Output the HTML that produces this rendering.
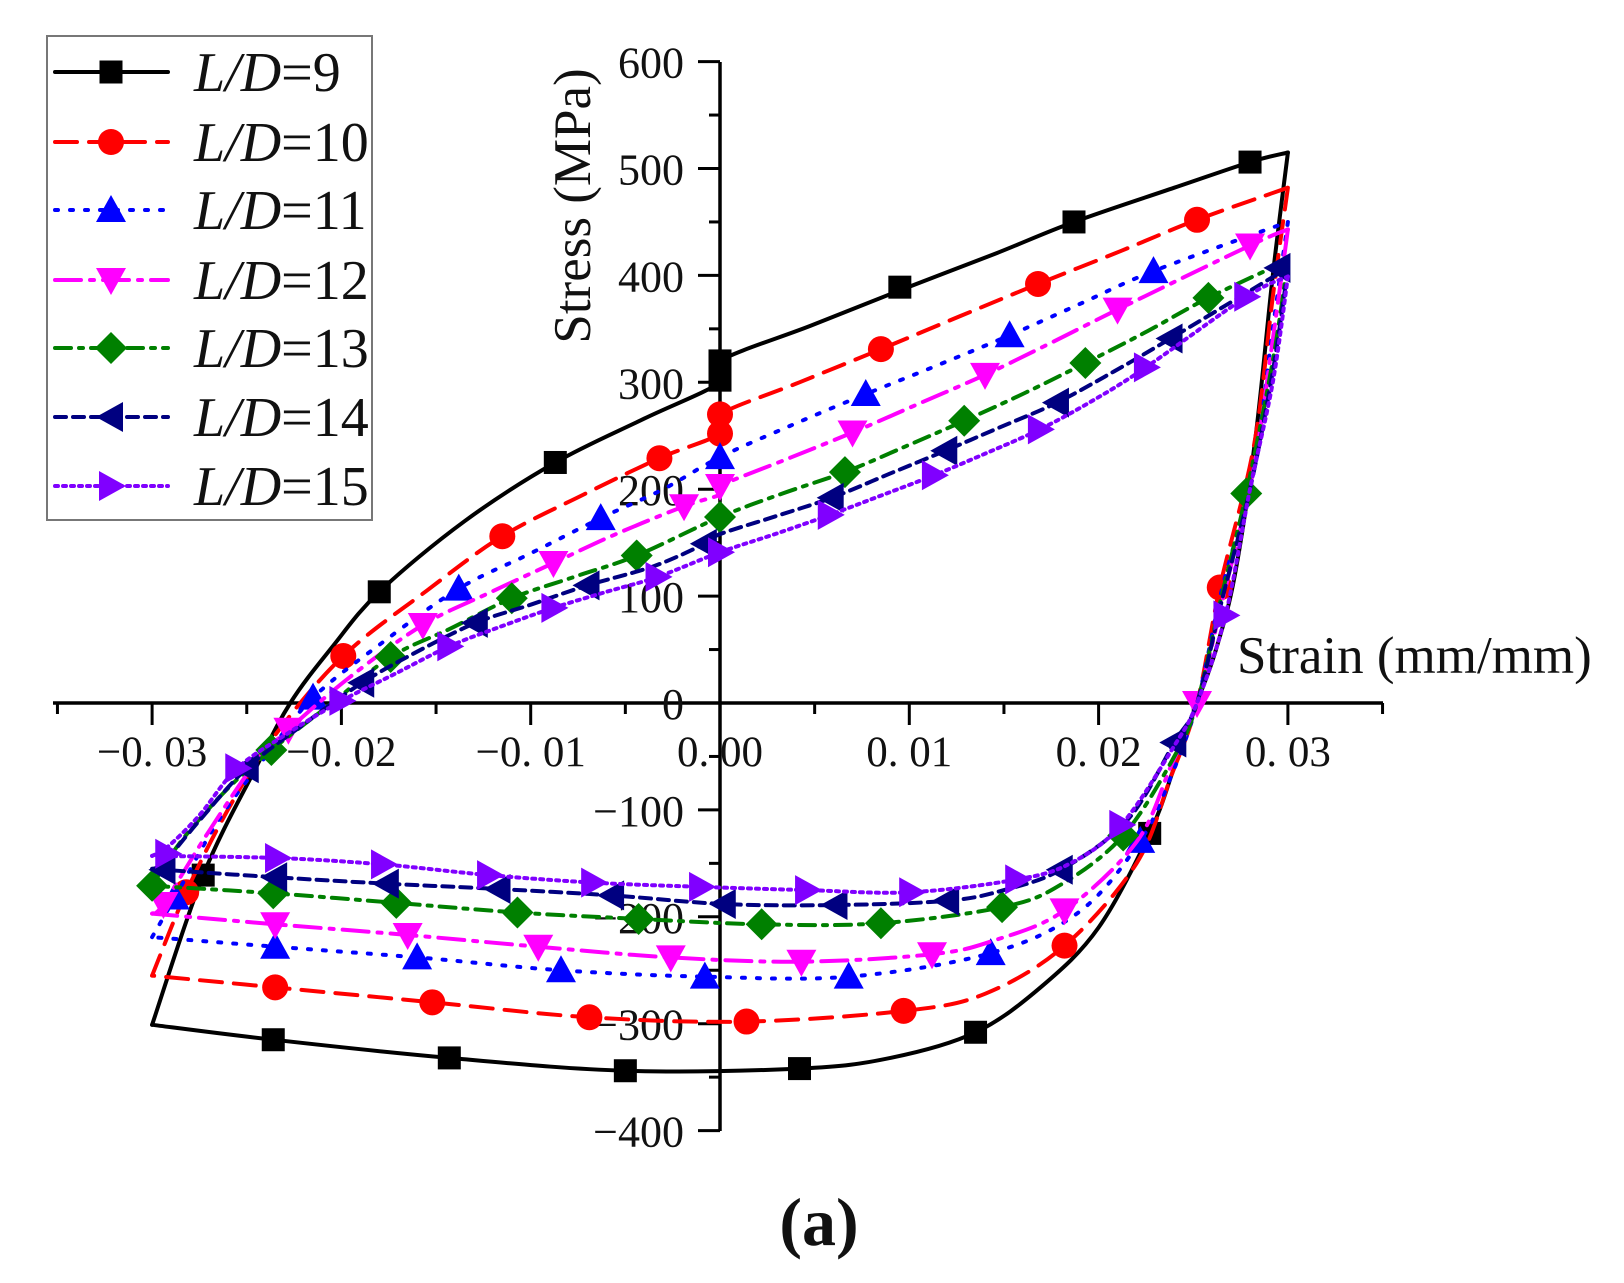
<!DOCTYPE html>
<html><head><meta charset="utf-8"><style>
html,body{margin:0;padding:0;background:#fff;}
svg{display:block;}
text{font-family:"Liberation Serif",serif;fill:#111;}
</style></head><body>
<svg id="chart" width="1624" height="1283" viewBox="0 0 1624 1283" xmlns="http://www.w3.org/2000/svg">
<g id="axes"></g>
<g id="series"></g>
<g id="legend"></g>
<text x="1237" y="673" font-size="53">Strain (mm/mm)</text>
<text transform="translate(590,206) rotate(-90)" text-anchor="middle" font-size="53">Stress (MPa)</text>
<text x="819" y="1245" text-anchor="middle" font-size="68" font-weight="bold">(a)</text>
</svg>
<script>
const xTicks = [-0.03,-0.02,-0.01,0,0.01,0.02,0.03];
const xTickLabels = ["\u22120. 03","\u22120. 02","\u22120. 01","0. 00","0. 01","0. 02","0. 03"];
const yTicks = [600,500,400,300,200,100,0,-100,-200,-300,-400];
const yTickLabels = ["600","500","400","300","200","100","0","\u2212100","\u2212200","\u2212300","\u2212400"];
const seriesNames = ["L/D=9","L/D=10","L/D=11","L/D=12","L/D=13","L/D=14","L/D=15"];

const up9 = [[-0.03,-301],[-0.0273,-161],[-0.0245,-60],[-0.0227,0],[-0.0205,52],[-0.018,104],[-0.0135,170],[-0.0087,225],[-0.004,266],[0,300],[0,320],[0.0048,353],[0.0095,386],[0.0145,420],[0.0187,450],[0.024,482],[0.028,506],[0.030,515]];
const down9 = [[0.030,515],[0.0292,400],[0.0283,250],[0.0272,120],[0.0262,50],[0.0252,0],[0.024,-60],[0.0227,-122],[0.020,-210],[0.017,-265],[0.0135,-308],[0.009,-332],[0.0042,-342],[-0.005,-344],[-0.0143,-332],[-0.0236,-315],[-0.030,-301]];
const marks9 = [[0.028,506],[0.0187,450],[0.0095,389],[0,320],[0,302],[-0.0087,225],[-0.018,104],[-0.0273,-161],[0.0227,-122],[0.0135,-308],[0.0042,-342],[-0.005,-344],[-0.0143,-332],[-0.0236,-315]];

const up10 = [[-0.030,-255],[-0.0282,-177],[-0.026,-100],[-0.0235,-30],[-0.0199,44],[-0.0155,105],[-0.0115,156],[-0.0072,195],[-0.0032,229],[0,252],[0,270],[0.0042,300],[0.0085,331],[0.0127,362],[0.0168,392],[0.0212,423],[0.0252,452],[0.030,482]];
const down10 = [[0.030,482],[0.0292,380],[0.0282,240],[0.0264,108],[0.0252,0],[0.0238,-70],[0.022,-150],[0.0182,-227],[0.014,-272],[0.0097,-288],[0.0014,-298],[-0.0069,-294],[-0.0152,-280],[-0.0235,-266],[-0.030,-255]];
const marks10 = [[0.0252,452],[0.0168,392],[0.0085,331],[0,270],[0,252],[-0.0032,229],[-0.0115,156],[-0.0199,44],[-0.0282,-177],[0.0264,108],[0.0182,-227],[0.0097,-288],[0.0014,-298],[-0.0069,-294],[-0.0152,-280],[-0.0235,-266]];

const up11 = [[-0.030,-219],[-0.0288,-182],[-0.0265,-110],[-0.024,-50],[-0.0215,5],[-0.0178,57],[-0.0138,107],[-0.01,140],[-0.0063,173],[-0.003,200],[0,230],[0.0038,260],[0.0077,289],[0.0115,316],[0.0153,344],[0.0191,374],[0.0229,404],[0.030,450]];
const down11 = [[0.030,450],[0.0292,350],[0.0282,220],[0.0265,105],[0.0252,0],[0.0238,-70],[0.0222,-129],[0.019,-195],[0.0143,-234],[0.0068,-256],[-0.0008,-256],[-0.0084,-250],[-0.016,-238],[-0.0235,-228],[-0.030,-219]];
const marks11 = [[0.0229,404],[0.0153,344],[0.0077,289],[0,230],[-0.0063,173],[-0.0138,107],[-0.0215,5],[-0.0288,-182],[0.0222,-129],[0.0143,-234],[0.0068,-256],[-0.0008,-256],[-0.0084,-250],[-0.016,-238],[-0.0235,-228]];

const up12 = [[-0.030,-197],[-0.0294,-188],[-0.027,-120],[-0.0245,-55],[-0.0228,-25],[-0.0195,25],[-0.0157,73],[-0.0122,103],[-0.0088,131],[-0.0055,158],[-0.0019,184],[0,195],[0,203],[0.0035,228],[0.007,253],[0.0105,280],[0.014,307],[0.0175,337],[0.021,368],[0.028,428],[0.030,443]];
const down12 = [[0.030,443],[0.0292,340],[0.0282,220],[0.0266,100],[0.0252,0],[0.0238,-60],[0.022,-130],[0.0182,-194],[0.0145,-222],[0.0112,-235],[0.0043,-242],[-0.0026,-238],[-0.0096,-228],[-0.0165,-217],[-0.0235,-207],[-0.030,-197]];
const marks12 = [[0.028,428],[0.021,368],[0.014,307],[0.007,253],[0,203],[-0.0019,184],[-0.0088,131],[-0.0157,73],[-0.0228,-25],[-0.0294,-188],[0.0252,0],[0.0182,-194],[0.0112,-235],[0.0043,-242],[-0.0026,-238],[-0.0096,-228],[-0.0165,-217],[-0.0235,-207]];

const up13 = [[-0.030,-171],[-0.0285,-130],[-0.026,-80],[-0.0237,-44],[-0.0205,0],[-0.0174,43],[-0.0142,70],[-0.011,98],[-0.0077,118],[-0.0044,138],[0,174],[0.0033,196],[0.0066,216],[0.0098,240],[0.0129,264],[0.0161,290],[0.0193,318],[0.0226,348],[0.0258,379],[0.030,414]];
const down13 = [[0.030,414],[0.0292,320],[0.0278,196],[0.0265,100],[0.0252,0],[0.024,-50],[0.0213,-124],[0.018,-170],[0.0149,-191],[0.0085,-206],[0.0022,-207],[-0.0043,-202],[-0.0107,-196],[-0.0171,-187],[-0.0236,-178],[-0.030,-171]];
const marks13 = [[0.0258,379],[0.0193,318],[0.0129,264],[0.0066,216],[0,174],[-0.0044,138],[-0.011,98],[-0.0174,43],[-0.0237,-44],[-0.030,-171],[0.0278,196],[0.0213,-124],[0.0149,-191],[0.0085,-206],[0.0022,-207],[-0.0043,-202],[-0.0107,-196],[-0.0171,-187],[-0.0236,-178]];

const up14 = [[-0.030,-155],[-0.0294,-150],[-0.0275,-110],[-0.025,-61],[-0.022,-20],[-0.0189,19],[-0.016,48],[-0.0129,75],[-0.01,92],[-0.007,110],[-0.0035,128],[-0.0008,149],[0,158],[0.003,175],[0.0059,192],[0.0089,214],[0.0119,236],[0.0148,258],[0.0178,281],[0.0208,310],[0.0238,341],[0.030,407]];
const down14 = [[0.030,407],[0.0292,310],[0.028,200],[0.0265,95],[0.0252,0],[0.024,-37],[0.0215,-110],[0.018,-156],[0.015,-175],[0.012,-185],[0.0061,-189],[0.0002,-188],[-0.0057,-180],[-0.0117,-174],[-0.0176,-169],[-0.0235,-163],[-0.0294,-156],[-0.030,-155]];
const marks14 = [[0.0295,407],[0.0238,341],[0.0178,281],[0.0119,236],[0.0059,192],[-0.0008,149],[-0.007,110],[-0.0129,75],[-0.0189,19],[-0.025,-61],[0.024,-37],[0.018,-156],[0.012,-185],[0.0061,-189],[0.0002,-188],[-0.0057,-180],[-0.0117,-174],[-0.0176,-169],[-0.0235,-163],[-0.0294,-156]];

const up15 = [[-0.030,-143],[-0.0292,-135],[-0.0275,-105],[-0.0255,-61],[-0.0228,-28],[-0.020,2],[-0.0172,27],[-0.0143,53],[-0.0115,72],[-0.0088,89],[-0.006,104],[-0.0033,118],[0,141],[0.0029,158],[0.0058,176],[0.0085,194],[0.0113,213],[0.0141,234],[0.0169,256],[0.0197,283],[0.0225,314],[0.0278,380],[0.030,399]];
const down15 = [[0.030,399],[0.0292,300],[0.028,200],[0.0267,82],[0.0252,0],[0.024,-40],[0.0212,-114],[0.0185,-150],[0.0157,-165],[0.0101,-177],[0.0046,-175],[-0.001,-172],[-0.0067,-168],[-0.0122,-161],[-0.0178,-151],[-0.0234,-145],[-0.030,-143]];
const marks15 = [[0.0278,380],[0.0225,314],[0.0169,256],[0.0113,213],[0.0058,176],[0,141],[-0.0033,118],[-0.0088,89],[-0.0143,53],[-0.020,2],[-0.0255,-61],[-0.0292,-141],[0.0267,82],[0.0212,-114],[0.0157,-165],[0.0101,-177],[0.0046,-175],[-0.001,-172],[-0.0067,-168],[-0.0122,-161],[-0.0178,-151],[-0.0234,-145]];

const NS = "http://www.w3.org/2000/svg";
function X(s){ return 720 + s*18930; }
function Y(v){ return 703 - v*1.069; }
function mk(tag, attrs, parent){
  const e = document.createElementNS(NS, tag);
  for (const k in attrs) e.setAttribute(k, attrs[k]);
  parent.appendChild(e); return e;
}
const styles = [
  {color:"#000000", dash:"", shape:"square"},
  {color:"#ff0000", dash:"22,12", shape:"circle"},
  {color:"#0000ff", dash:"3,12", shape:"up"},
  {color:"#ff00ff", dash:"26,9,4,9", shape:"down"},
  {color:"#008000", dash:"16,8,4,8", shape:"diamond"},
  {color:"#000080", dash:"11,7", shape:"left"},
  {color:"#8000ff", dash:"3,5", shape:"right"}
];
const ups = [up9,up10,up11,up12,up13,up14,up15];
const downs = [down9,down10,down11,down12,down13,down14,down15];
const marks = [marks9,marks10,marks11,marks12,marks13,marks14,marks15];

function smooth(pts){
  const p = pts.map(q=>[X(q[0]),Y(q[1])]);
  let d = "M"+p[0][0].toFixed(1)+","+p[0][1].toFixed(1);
  for (let i=0;i<p.length-1;i++){
    const p0=p[Math.max(0,i-1)], p1=p[i], p2=p[i+1], p3=p[Math.min(p.length-1,i+2)];
    const c1=[p1[0]+(p2[0]-p0[0])/6, p1[1]+(p2[1]-p0[1])/6];
    const c2=[p2[0]-(p3[0]-p1[0])/6, p2[1]-(p3[1]-p1[1])/6];
    d += " C"+c1[0].toFixed(1)+","+c1[1].toFixed(1)+" "+c2[0].toFixed(1)+","+c2[1].toFixed(1)+" "+p2[0].toFixed(1)+","+p2[1].toFixed(1);
  }
  return d;
}
function marker(shape, cx, cy, color, parent){
  let e;
  if (shape==="square") e = mk("rect",{x:cx-11.5,y:cy-11.5,width:23,height:23,fill:color},parent);
  else if (shape==="circle") e = mk("circle",{cx:cx,cy:cy,r:13,fill:color},parent);
  else {
    let pts;
    if (shape==="up") pts=[[0,-15],[15,12],[-15,12]];
    else if (shape==="down") pts=[[0,15],[15,-12],[-15,-12]];
    else if (shape==="left") pts=[[-15,0],[12,-15],[12,15]];
    else if (shape==="right") pts=[[15,0],[-12,-15],[-12,15]];
    else pts=[[0,-16],[16,0],[0,16],[-16,0]];
    e = mk("polygon",{points:pts.map(q=>(cx+q[0])+","+(cy+q[1])).join(" "),fill:color},parent);
  }
  return e;
}

// axes
const ax = document.getElementById("axes");
const xl = mk("line",{x1:53,y1:703,x2:1383,y2:703,stroke:"#000","stroke-width":3.5},ax);


const yl = mk("line",{x1:720,y1:62,x2:720,y2:1131,stroke:"#000","stroke-width":3.5},ax);


for (let k=-7;k<=7;k++){
  const s=k*0.005, major = (k%2===0);
  const t = mk("line",{x1:X(s),y1:703,x2:X(s),y2:703+(major?22:11),stroke:"#000","stroke-width":3},ax);
  
  
}
xTicks.forEach((s,i)=>{
  const t = mk("text",{x:X(s),y:766,"text-anchor":"middle","font-size":43},ax);
  t.textContent = xTickLabels[i];
  
  
});
for (let v=600; v>=-400; v-=50){
  const major = (v%100===0);
  const t = mk("line",{x1:720-(major?22:11),y1:Y(v),x2:720,y2:Y(v),stroke:"#000","stroke-width":3},ax);
  
  
}
yTicks.forEach((v,i)=>{
  const t = mk("text",{x:684,y:Y(v)+16,"text-anchor":"end","font-size":44},ax);
  t.textContent = yTickLabels[i];
  
  
});

// series
const sg = document.getElementById("series");
for (let i=0;i<7;i++){
  const st = styles[i];
  const g = mk("g",{},sg);
  
  
  [ups[i],downs[i]].forEach(arr=>{
    const p = mk("path",{d:smooth(arr),fill:"none",stroke:st.color,"stroke-width":4,"stroke-dasharray":st.dash,"stroke-linecap":"round","stroke-linejoin":"round"},g);
    
    
  });
  marks[i].forEach(q=>{
    const m = marker(st.shape, X(q[0]), Y(q[1]), st.color, g);
    
    
  });
}

// legend
const lg = document.getElementById("legend");
const box = mk("rect",{x:47,y:36,width:325,height:484,fill:"#fff",stroke:"#777","stroke-width":2},lg);


const ly = [72,142,210,280,348,417,486];
for (let i=0;i<7;i++){
  const st = styles[i];
  const g = mk("g",{},lg);
  
  
  mk("line",{x1:55,y1:ly[i],x2:168,y2:ly[i],stroke:st.color,"stroke-width":4,"stroke-dasharray":st.dash,"stroke-linecap":"round"},g);
  marker(st.shape,111,ly[i],st.color,g);
  const t = mk("text",{x:194,y:ly[i]+19,"font-size":56},g);
  const parts = seriesNames[i].split("=");
  const ts1 = mk("tspan",{"font-style":"italic"},t); ts1.textContent = parts[0];
  const ts2 = mk("tspan",{},t); ts2.textContent = "="+parts[1];
}
</script>
</body></html>
